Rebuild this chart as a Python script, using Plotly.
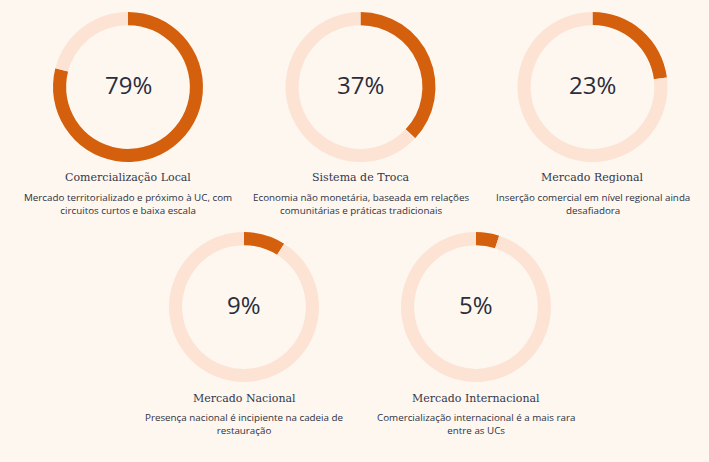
import plotly.graph_objects as go

titles = ["Comercialização Local", "Sistema de Troca", "Mercado Regional",
          "Mercado Nacional", "Mercado Internacional"]
values = [79, 37, 23, 9, 5]
descriptions = [
    "Mercado territorializado e próximo à UC, com<br>circuitos curtos e baixa escala",
    "Economia não monetária, baseada em relações<br>comunitárias e práticas tradicionais",
    "Inserção comercial em nível regional ainda<br>desafiadora",
    "Presença nacional é incipiente na cadeia de<br>restauração",
    "Comercialização internacional é a mais rara<br>entre as UCs",
]

W, H = 709, 462
centers = [(128, 87), (360.5, 87), (592.5, 87), (244, 307), (476, 307)]
R = 75
ORANGE = "#D4600E"
LIGHT = "#FCE3D3"
BG = "#FDF7F0"

fig = go.Figure()
ann = []
for i, (t, v, d) in enumerate(zip(titles, values, descriptions)):
    cx, cy = centers[i]
    fig.add_trace(go.Pie(
        values=[v, 100 - v],
        hole=0.825,
        sort=False,
        direction="clockwise",
        rotation=0,
        marker=dict(colors=[ORANGE, LIGHT], line=dict(width=0)),
        textinfo="none",
        hoverinfo="skip",
        showlegend=False,
        domain=dict(x=[(cx - R) / W, (cx + R) / W], y=[1 - (cy + R) / H, 1 - (cy - R) / H]),
    ))
    ann.append(dict(x=cx / W, y=1 - (cy - 3) / H, xref="paper", yref="paper",
                    text=f"{v}%", showarrow=False, xanchor="center", yanchor="middle",
                    font=dict(family="Open Sans", size=24, color="#2B2D3B")))
    ann.append(dict(x=cx / W, y=1 - (cy + 91) / H, xref="paper", yref="paper",
                    text=t, showarrow=False, xanchor="center", yanchor="middle",
                    font=dict(family="DejaVu Serif", size=11, color="#34364A")))
    ann.append(dict(x=cx / W, y=1 - (cy + 102) / H, xref="paper", yref="paper",
                    text=d, showarrow=False, xanchor="center", yanchor="top",
                    align="center",
                    font=dict(family="Open Sans", size=9.8, color="#2E3140")))

fig.update_layout(width=W, height=H, margin=dict(l=0, r=0, t=0, b=0),
                  paper_bgcolor=BG, plot_bgcolor=BG, annotations=ann)
fig.write_html("out.html")
